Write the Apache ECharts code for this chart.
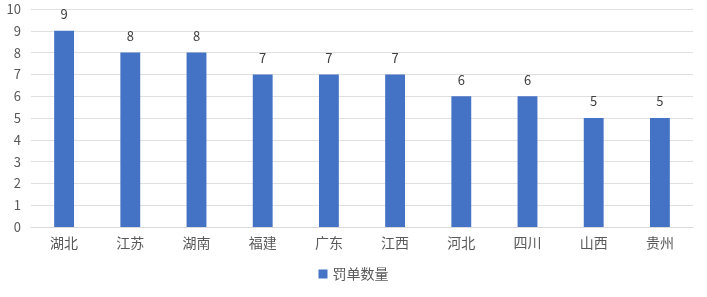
<!DOCTYPE html>
<html><head><meta charset="utf-8">
<script src="https://cdn.jsdelivr.net/npm/echarts@6/dist/echarts.min.js"></script>
<style>html,body{margin:0;padding:0;background:#fff}#c{width:707px;height:297px}</style>
</head><body><div id="c"></div>
<script>
const categories = ['湖北','江苏','湖南','福建','广东','江西','河北','四川','山西','贵州'];
const values = [9,8,8,7,7,7,6,6,5,5];
const seriesName = '罚单数量';
const yTicks = [0,1,2,3,4,5,6,7,8,9,10];

const chart = echarts.init(document.getElementById('c'), null, {renderer:'canvas'});
const font = '"Microsoft YaHei","Noto Sans CJK SC",sans-serif';
chart.setOption({
  animation:false,
  grid:{left:31,right:14,top:9,bottom:70,containLabel:false},
  legend:{data:[seriesName],bottom:11,left:'center',itemWidth:9,itemHeight:9,icon:'rect',itemGap:5,
    textStyle:{color:'#595959',fontSize:14,fontFamily:font}},
  xAxis:{type:'category',data:categories,
    axisLine:{lineStyle:{color:'#d9d9d9',width:1}},axisTick:{show:false},
    axisLabel:{color:'#595959',fontSize:14,fontFamily:font,margin:9}},
  yAxis:{type:'value',min:yTicks[0],max:yTicks[yTicks.length-1],interval:1,
    axisLine:{show:false},axisTick:{show:false},
    splitLine:{lineStyle:{color:'#e0e0e0'}},
    axisLabel:{color:'#595959',fontSize:13,fontFamily:font,margin:10}},
  series:[{name:seriesName,type:'bar',data:values,barWidth:'30%',
    itemStyle:{color:'#4472C4'},
    label:{show:true,position:'top',distance:10,color:'#404040',fontSize:13,fontFamily:font}}]
});
</script></body></html>
